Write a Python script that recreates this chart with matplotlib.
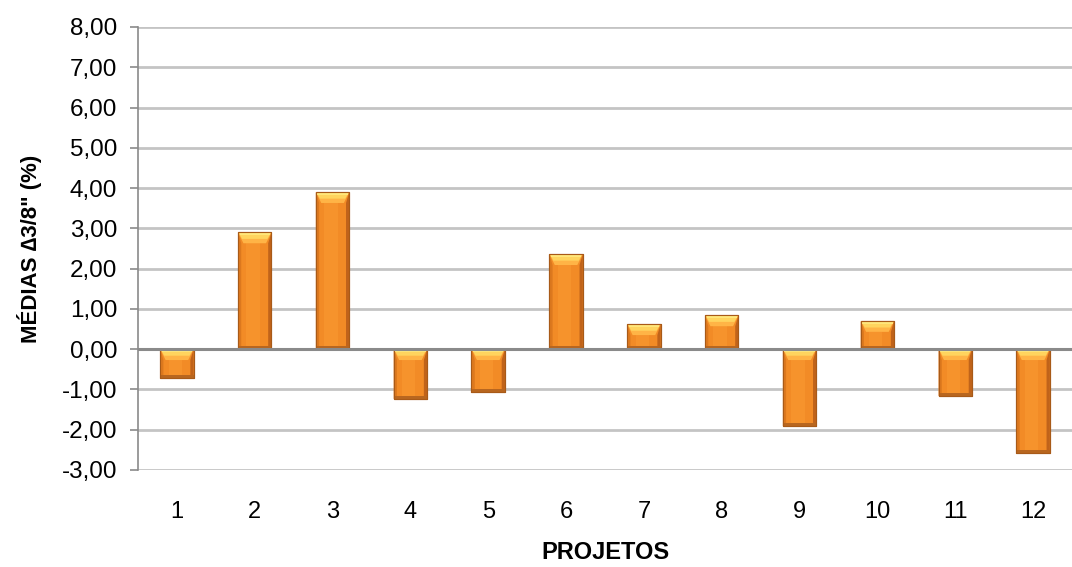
import numpy as np
import matplotlib
matplotlib.use("Agg")
import matplotlib.pyplot as plt
from matplotlib.patches import Polygon, Rectangle
from matplotlib.ticker import FuncFormatter

plt.rcParams['font.family'] = ['Liberation Sans', 'DejaVu Sans']

# médias por projeto
projetos = ['1', '2', '3', '4', '5', '6', '7', '8', '9', '10', '11', '12']
medias = [-0.72, 2.90, 3.90, -1.24, -1.07, 2.36, 0.62, 0.84, -1.91, 0.70, -1.17, -2.58]

fig = plt.figure(figsize=(10.72, 5.67), dpi=100)
ax = fig.add_axes([0.1287, 0.1711, 0.8713, 0.7813])

x = np.arange(len(projetos))
width = 0.43

# grid
for yv in range(-3, 9):
    if yv == 0:
        continue
    ax.axhline(yv, color='#c4c4c4', lw=2.0, zorder=0)
ax.axhline(0, color='#8a8a8a', lw=2.2, zorder=3)

bars = ax.bar(x, medias, width, color='#f28b26', edgecolor='#a85a18', lw=0.8, zorder=2)

# bevel look: darker sides, darker bottom, light top cap
bev_y = 0.27
bev_x = 0.07
for b in bars:
    x0 = b.get_x()
    x1 = x0 + b.get_width()
    y_lo = min(b.get_y(), b.get_y() + b.get_height())
    y_hi = max(b.get_y(), b.get_y() + b.get_height())
    h = y_hi - y_lo
    by = min(bev_y, h * 0.45)
    # left and right shading
    ax.add_patch(Polygon([[x0, y_lo], [x0 + bev_x * 0.6, y_lo + by * 0.3],
                          [x0 + bev_x * 0.6, y_hi - by], [x0, y_hi]],
                         closed=True, color='#dc781e', lw=0, zorder=2.1))
    ax.add_patch(Polygon([[x1, y_lo], [x1 - bev_x * 0.6, y_lo + by * 0.3],
                          [x1 - bev_x * 0.6, y_hi - by], [x1, y_hi]],
                         closed=True, color='#c0631a', lw=0, zorder=2.1))
    # bottom strip
    ax.add_patch(Rectangle((x0, y_lo), b.get_width(), by * 0.3,
                           color='#b8661f', lw=0, zorder=2.1))
    # top cap
    ax.add_patch(Polygon([[x0, y_hi], [x1, y_hi], [x1 - bev_x, y_hi - by],
                          [x0 + bev_x, y_hi - by]],
                         closed=True, color='#ffb446', lw=0, zorder=2.2))
    ax.add_patch(Polygon([[x0 + 0.01, y_hi - 0.01], [x1 - 0.01, y_hi - 0.01],
                          [x1 - bev_x * 0.75, y_hi - by * 0.6],
                          [x0 + bev_x * 0.75, y_hi - by * 0.6]],
                         closed=True, color='#ffd45e', lw=0, zorder=2.3))
    ax.add_patch(Rectangle((x0 + 0.02, y_hi - by * 0.28), b.get_width() - 0.04,
                           by * 0.26, color='#ffe67a', lw=0, zorder=2.35))
    # body highlight
    ax.add_patch(Rectangle((x0 + width * 0.25, y_lo + by * 0.3), width * 0.4,
                           h - by * 1.3, color='#f9972f', lw=0, alpha=0.7, zorder=2.15))
    # outline again
    ax.add_patch(Rectangle((x0, y_lo), b.get_width(), h, fill=False,
                           edgecolor='#a85a18', lw=0.8, zorder=2.4))

ax.set_xlim(-0.5, len(projetos) - 0.5)
ax.set_ylim(-3, 8)
ax.set_yticks(range(-3, 9))
ax.yaxis.set_major_formatter(FuncFormatter(lambda v, p: f"{v:.2f}".replace('.', ',')))
ax.set_xticks(x)
ax.set_xticklabels(projetos)

for s in ['top', 'right', 'bottom']:
    ax.spines[s].set_visible(False)
ax.spines['left'].set_color('#8a8a8a')
ax.spines['left'].set_linewidth(1.2)
ax.tick_params(axis='y', length=6, width=1.2, color='#8a8a8a', labelsize=17.5, pad=9)
ax.tick_params(axis='x', length=0, labelsize=17, pad=22)

ax.set_xlabel('PROJETOS', fontsize=17, fontweight='bold', labelpad=13)
ax.set_ylabel('MÉDIAS \u22063/8" (%)', fontsize=16, fontweight='bold', labelpad=14)

fig.savefig('out.png', dpi=100)
